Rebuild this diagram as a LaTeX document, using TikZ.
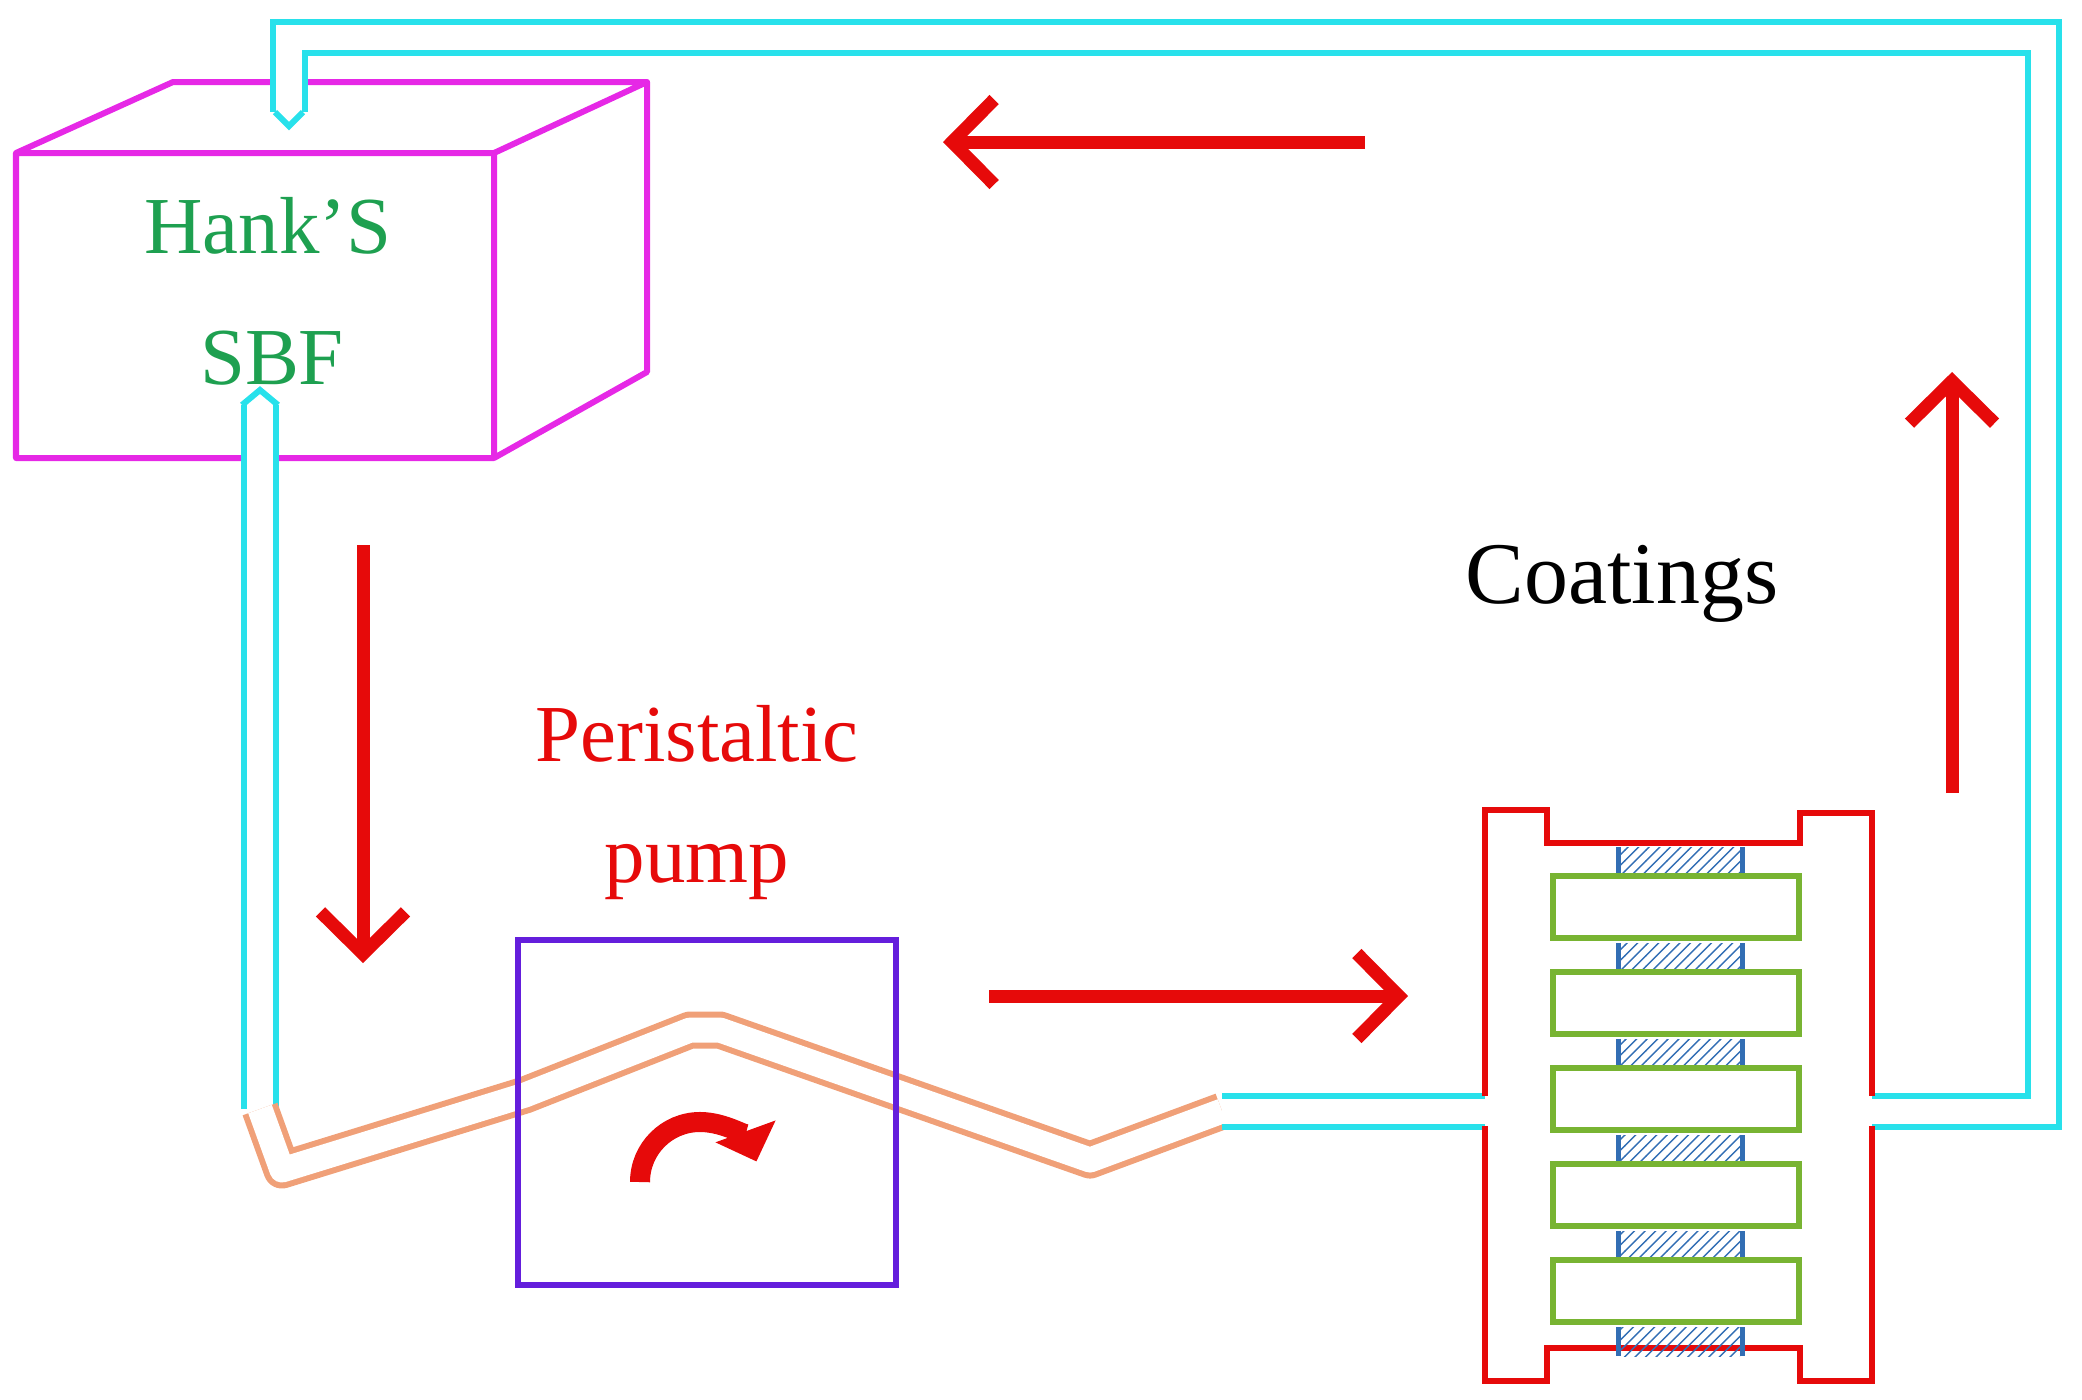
\documentclass[tikz,border=0pt]{standalone}
\usepackage{fontspec}
\setmainfont{Liberation Serif}
\usetikzlibrary{arrows.meta,patterns}
\definecolor{tubecyan}{RGB}{40,225,235}
\definecolor{tubeorange}{RGB}{240,160,120}
\definecolor{boxmag}{RGB}{230,40,230}
\definecolor{flowred}{RGB}{230,10,10}
\definecolor{hankgreen}{RGB}{30,160,80}
\definecolor{plategreen}{RGB}{120,180,50}
\definecolor{pumpviolet}{RGB}{100,30,220}
\definecolor{spacerblue}{RGB}{50,110,180}
\tikzset{
  tube/.style={draw=#1, double=white, double distance=0.25cm, line width=0.06cm, line join=miter},
  flow/.style={flowred, line width=0.13cm, -{Straight Barb[length=0.42cm,width=0.85cm,line width=0.13cm]}},
  label/.style={font=\fontsize{23}{26}\selectfont, inner sep=0pt}
}
\begin{document}
\begin{tikzpicture}[x=0.01cm,y=-0.01cm]
  \useasboundingbox (0,0) rectangle (2082,1399);

  % tank
  \draw[boxmag, line width=0.06cm, line join=round]
    (16,153) rectangle (494,458)
    (16,153) -- (173,82) -- (647,82) -- (494,153)
    (647,82) -- (647,372) -- (494,458);
  \node[label, text=hankgreen] (hank) at (268,226) {Hank’S};
  \node[label, text=hankgreen] (sbf) at (272,358) {SBF};

  % tube points
  \coordinate (inlet) at (289,112);
  \coordinate (c1) at (289,37);
  \coordinate (c2) at (2043,37);
  \coordinate (c3) at (2043,1111);
  \coordinate (cellout) at (1872,1111);
  \coordinate (outlet) at (260,405);
  \coordinate (o1) at (260,1109);
  \coordinate (o2) at (282,1170);
  \coordinate (o3) at (525,1095);
  \coordinate (o4) at (690,1030);
  \coordinate (o5) at (720,1030);
  \coordinate (o6) at (905,1095);
  \coordinate (o7) at (1090,1160);
  \coordinate (o8) at (1222,1111);
  \coordinate (cellin) at (1485,1111);

  % tubes
  \draw[tube=tubecyan] (cellout) -- (c3) -- (c2) -- (c1) -- (inlet);
  \draw[tubecyan, line width=0.06cm] (275,112) -- (289,126) -- (303,112);
  \draw[tube=tubecyan] (o1) -- (outlet);
  \draw[tubecyan, line width=0.06cm] (242,405) -- (260,390) -- (278,405);
  \draw[tube=tubeorange, line join=round] (o1) -- (o2) -- (o3) -- (o4) -- (o5) -- (o6) -- (o7) -- (o8);
  \draw[tube=tubecyan] (o8) -- (cellin);

  % pump
  \draw[pumpviolet, line width=0.06cm] (518,940) rectangle (896,1285);
  \node[label, text=flowred] (peri) at (697,734) {Peristaltic};
  \node[label, text=flowred] (pump) at (697,872) {pump};
  \coordinate (rot) at (640,1182);
  \draw[flowred, line width=0.2cm, -{Triangle[length=0.32cm,width=0.62cm]}]
    (rot) arc[start angle=180, end angle=20, radius=0.6cm];

  % cell
  \draw[flowred, line width=0.06cm, line join=miter]
    (1485,1096) -- (1485,810) -- (1547,810) -- (1547,843) -- (1800,843) -- (1800,813)
    -- (1872,813) -- (1872,1096);
  \draw[flowred, line width=0.06cm, line join=miter]
    (1485,1126) -- (1485,1381) -- (1547,1381) -- (1547,1348) -- (1800,1348) -- (1800,1381)
    -- (1872,1381) -- (1872,1126);
  \foreach \i in {0,...,5}{
    \pgfmathsetmacro{\ya}{847+\i*96}
    \pgfmathsetmacro{\yb}{\ya+29}
    \fill[pattern=north east lines, pattern color=spacerblue] (1620,\ya) rectangle (1740,\yb);
    \draw[spacerblue, line width=0.05cm] (1618,\ya) -- (1618,\yb) (1742,\ya) -- (1742,\yb);
  }
  \foreach \i in {0,...,4}{
    \pgfmathsetmacro{\ya}{876+\i*96}
    \draw[plategreen, line width=0.06cm] (1553,\ya) rectangle (1799,\ya+62);
  }
  \node[label, font=\fontsize{25}{28}\selectfont] (coat) at (1622,584) {Coatings};

  % flow arrows
  \coordinate (d1) at (363,545);   \coordinate (d2) at (363,963);
  \coordinate (r1) at (989,996);   \coordinate (r2) at (1408,996);
  \coordinate (u1) at (1952,793);  \coordinate (u2) at (1952,372);
  \coordinate (l1) at (1365,142);  \coordinate (l2) at (943,142);
  \draw[flow] (d1) -- (d2);
  \draw[flow] (r1) -- (r2);
  \draw[flow] (u1) -- (u2);
  \draw[flow] (l1) -- (l2);
\end{tikzpicture}
\end{document}
